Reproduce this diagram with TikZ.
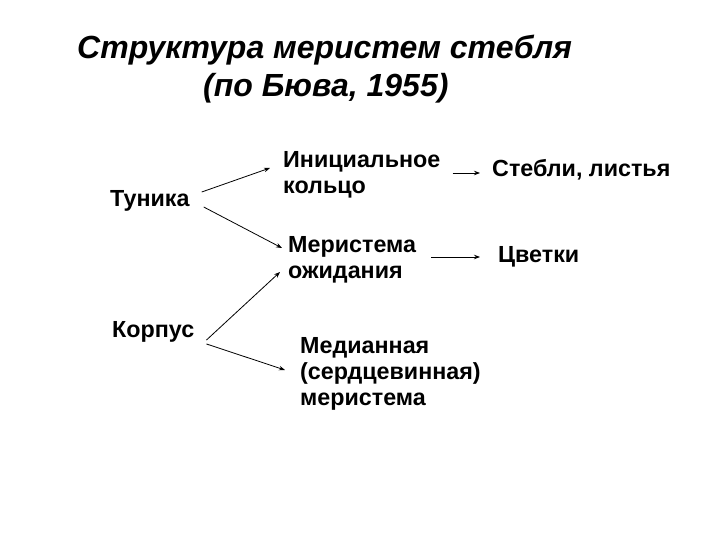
\documentclass[tikz,border=0pt]{standalone}
\usepackage{fontspec}
\setmainfont{Liberation Sans}
\usetikzlibrary{arrows.meta}
\tikzset{
  ttl/.style={anchor=base west, inner sep=0pt, font=\fontsize{32}{38}\selectfont\bfseries\itshape},
  lbl/.style={anchor=base west, inner sep=0pt, align=left, font=\fontsize{23.3}{26}\selectfont\bfseries},
  arr/.style={line width=0.8pt, -{Stealth[length=6pt,width=4.5pt]}}
}
\begin{document}
\begin{tikzpicture}[x=1pt,y=-1pt]
\useasboundingbox (0,0) rectangle (720,540);
\node[ttl] (t1) at (77,59) {Структура меристем стебля};
\node[ttl] (t2) at (203,97) {(по Бюва, 1955)};
\node[lbl] (tun) at (110,207) {Туника};
\node[lbl] (korp) at (112,337) {Корпус};
\node[lbl] (init) at (283,194) {Инициальное\\кольцо};
\node[lbl] (mer) at (288,278) {Меристема\\ожидания};
\node[lbl] (med) at (300,405) {Медианная\\(сердцевинная)\\меристема};
\node[lbl] (st) at (492,177) {Стебли, листья};
\node[lbl] (cv) at (498,262) {Цветки};
\draw[arr] ([shift={(12,-15)}]tun.base east) -- ([shift={(-13,-26)}]init.base west);
\draw[arr] ([shift={(14,0)}]tun.base east) -- ([shift={(-6,-30)}]mer.base west);
\draw[arr] ([shift={(12,3)}]korp.base east) -- ([shift={(-8,-6)}]mer.base west);
\draw[arr] ([shift={(12,7)}]korp.base east) -- ([shift={(-15,-35)}]med.base west);
\draw[arr] ([shift={(12,-21)}]init.base east) -- ([shift={(-12,-4)}]st.base west);
\draw[arr] ([shift={(15,-21)}]mer.base east) -- ([shift={(-18,-5)}]cv.base west);
\end{tikzpicture}
\end{document}
